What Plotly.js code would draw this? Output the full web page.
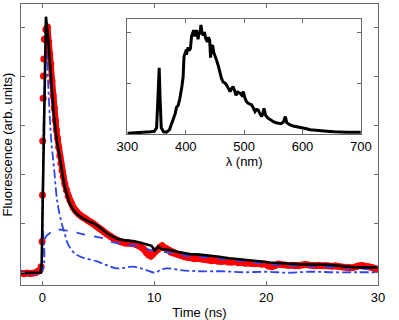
<!DOCTYPE html>
<html>
<head>
<meta charset="utf-8">
<script src="https://cdn.plot.ly/plotly-3.0.1.min.js"></script>
<style>
  body { margin: 0; background: #fff; }
  #plot { width: 399px; height: 320px; }
</style>
</head>
<body>
<div id="plot"></div>
<script>
// measured decay (red dots)
var dataTime = [-1.9, -1.65, -1.4, -1.15, -0.9, -0.65, -0.4, -0.22, -0.12, -0.03, 0.0, 0.02, 0.06, 0.09, 0.12, 0.17,
  0.3, 0.45, 0.55, 0.65, 0.75, 0.85, 0.95, 1.05, 1.15, 1.25, 1.35, 1.45, 1.55, 1.65, 1.75, 1.85, 2.0, 2.15, 2.3, 2.45,
  2.6, 2.75, 2.9, 3.05, 3.2, 3.35, 3.5, 3.65, 3.8, 3.95, 4.1, 4.3, 4.5, 4.7, 4.9, 5.1, 5.3, 5.5, 5.7, 5.9, 6.1, 6.3,
  6.5, 6.7, 6.9, 7.1, 7.3, 7.5, 7.7, 7.9, 8.1, 8.3, 8.5, 8.7, 8.9, 9.1, 9.3, 9.5, 9.7, 9.9, 10.1, 10.3, 10.5, 10.7,
  10.9, 11.1, 11.3, 11.5, 11.7, 11.9, 12.1, 12.4, 12.7, 13.0, 13.3, 13.6, 13.9, 14.2, 14.5, 14.8, 15.1, 15.4, 15.7,
  16.0, 16.3, 16.6, 16.9, 17.2, 17.5, 17.8, 18.1, 18.4, 18.7, 19.0, 19.3, 19.6, 19.9, 20.2, 20.5, 20.8, 21.1, 21.4,
  21.7, 22.0, 22.3, 22.6, 22.9, 23.2, 23.5, 23.8, 24.1, 24.4, 24.7, 25.0, 25.3, 25.6, 25.9, 26.2, 26.5, 26.8, 27.1,
  27.4, 27.7, 28.0, 28.3, 28.6, 28.9, 29.2, 29.5, 29.8];
var dataValue = [-0.004, -0.006, -0.003, -0.005, -0.004, -0.002, 0.004, 0.008, 0.022, 0.125, 0.315, 0.535, 0.71, 0.80, 0.87, 0.95,
  0.99, 1.0, 0.94, 0.89, 0.85, 0.78, 0.72, 0.67, 0.62, 0.58, 0.545, 0.51, 0.475, 0.445, 0.415, 0.39, 0.36, 0.335, 0.31, 0.295,
  0.28, 0.265, 0.255, 0.247, 0.24, 0.233, 0.228, 0.223, 0.22, 0.215, 0.21, 0.205, 0.2, 0.193, 0.186, 0.178, 0.172, 0.165, 0.158, 0.152, 0.146, 0.14,
  0.135, 0.13, 0.126, 0.123, 0.12, 0.118, 0.12, 0.117, 0.118, 0.114, 0.111, 0.106, 0.1, 0.092, 0.08, 0.07, 0.066, 0.075, 0.085, 0.093, 0.102, 0.108,
  0.1, 0.096, 0.09, 0.082, 0.079, 0.076, 0.072, 0.068, 0.063, 0.06, 0.058, 0.055, 0.056, 0.054, 0.052, 0.05, 0.047, 0.048, 0.045,
  0.044, 0.046, 0.042, 0.041, 0.043, 0.039, 0.04, 0.037, 0.038, 0.036, 0.035, 0.036, 0.033, 0.034, 0.025, 0.022, 0.028, 0.034, 0.031,
  0.03, 0.028, 0.029, 0.026, 0.027, 0.03, 0.032, 0.03, 0.028, 0.027, 0.029, 0.026, 0.027, 0.025, 0.024, 0.026, 0.023, 0.021, 0.02,
  0.019, 0.018, 0.022, 0.027, 0.028, 0.024, 0.022, 0.019, 0.014];
var peakIndex = 17; // dots after this index sit close enough to merge into a band

// fit (black line)
var fitTime = [-1.9, -0.5, -0.16, -0.07, 0.02, 0.13, 0.22, 0.31, 0.52, 0.67, 0.82, 0.98, 1.12, 1.3, 1.5, 1.7, 1.95, 2.16, 2.4,
  2.7, 3.0, 3.35, 3.73, 4.2, 4.6, 5.13, 5.5, 6.0, 6.5, 6.9, 7.4, 7.8, 8.2, 8.7, 9.3, 9.75, 10.04, 10.34, 10.64, 11.4, 12.3,
  13.2, 14.06, 14.95, 15.8, 16.7, 17.6, 18.5, 19.4, 20.3, 21.2, 22.1, 23.0, 24.0, 25.0, 25.7, 26.6, 27.7, 28.7, 29.96];
var fitValue = [-0.003, -0.002, -0.001, 0.04, 0.31, 0.6, 0.84, 1.042, 0.947, 0.84, 0.743, 0.66, 0.6, 0.53, 0.48, 0.42, 0.355, 0.32, 0.283,
  0.258, 0.24, 0.228, 0.216, 0.206, 0.199, 0.183, 0.168, 0.152, 0.14, 0.133, 0.13, 0.129, 0.126, 0.121, 0.112, 0.108, 0.089, 0.104, 0.095, 0.091, 0.081,
  0.074, 0.072, 0.068, 0.063, 0.057, 0.054, 0.05, 0.045, 0.04, 0.037, 0.034, 0.032, 0.032, 0.031, 0.03, 0.026, 0.021, 0.02, 0.02];

// slow component (blue dashed)
var slowTime = [-1.9, -0.1, -0.02, 0.02, 0.07, 0.31, 0.67, 0.91, 1.27, 1.8, 2.75, 3.3, 3.94, 5.4, 6.03, 7.8, 8.7, 9.6, 10.5, 11.4,
  12.3, 14.06, 16.0, 18.0, 20.0, 22.0, 24.0, 26.0, 28.0, 29.96];
var slowValue = [0.0, 0.0, 0.03, 0.077, 0.104, 0.145, 0.16, 0.17, 0.175, 0.172, 0.166, 0.159, 0.152, 0.139, 0.125, 0.111, 0.104, 0.091, 0.084, 0.08,
  0.07, 0.064, 0.055, 0.045, 0.035, 0.028, 0.025, 0.021, 0.016, 0.012];

// fast component (blue dash-dot)
var fastTime = [-1.9, -0.15, -0.02, 0.15, 0.3, 0.37, 0.52, 0.67, 0.8, 1.05, 1.35, 1.8, 1.95, 2.25, 2.7, 3.1, 3.6, 4.8, 5.67, 6.6,
  7.3, 8.1, 8.7, 9.3, 10.04, 10.5, 11.1, 12.3, 14.0, 16.0, 18.0, 20.0, 22.0, 24.0, 26.0, 28.0, 29.96];
var fastValue = [0.0, 0.0, 0.25, 0.7, 0.88, 0.9, 0.757, 0.62, 0.53, 0.417, 0.28, 0.186, 0.165, 0.118, 0.085, 0.07, 0.06, 0.045, 0.03, 0.016,
  0.018, 0.023, 0.017, 0.009, -0.002, 0.008, 0.016, 0.009, 0.004, 0.004, 0.0, 0.002, -0.002, 0.002, 0.0, 0.0, 0.0];

// emission spectrum (inset)
var waveLength = [300, 310, 320, 330, 340, 346, 350, 352, 354.5, 356, 358, 362, 367, 372, 376, 379, 382, 384, 387, 390,
  392, 393.5, 395.5, 397, 400, 402, 404, 406, 408, 410, 412, 413.5, 415, 417, 419, 421, 423, 424.5, 426, 428,
  430, 432, 434, 437, 439, 441, 442.5, 444, 446, 448, 450, 453, 455.7, 458.6, 461, 464, 467, 470, 473, 476,
  478, 481, 484, 486, 489, 493, 496, 498.6, 501.5, 504, 507, 510, 513, 516, 518.6, 521, 524, 527, 530, 532,
  534, 537, 541, 545, 550, 555, 558.6, 563, 567, 570.6, 573, 578, 584, 590, 595, 601, 607, 613, 620, 630,
  640, 647, 655, 664, 675, 687, 700];
var spectrum = [0.005, 0.008, 0.015, 0.012, 0.02, 0.025, 0.06, 0.3, 0.65, 0.35, 0.06, 0.02, 0.017, 0.04, 0.1, 0.16, 0.2, 0.26, 0.28, 0.35,
  0.4, 0.47, 0.56, 0.76, 0.81, 0.8, 0.85, 0.82, 0.84, 0.96, 0.99, 1.02, 0.96, 1.0, 1.02, 0.93, 1.0, 0.98, 1.07, 0.99,
  0.97, 1.0, 0.94, 0.905, 0.95, 0.92, 0.75, 0.86, 0.87, 0.8, 0.775, 0.72, 0.67, 0.595, 0.55, 0.51, 0.5, 0.48, 0.45, 0.415,
  0.44, 0.464, 0.42, 0.38, 0.41, 0.4, 0.38, 0.415, 0.35, 0.317, 0.3, 0.29, 0.284, 0.25, 0.22, 0.24, 0.235, 0.2, 0.17, 0.2,
  0.25, 0.18, 0.154, 0.14, 0.12, 0.11, 0.105, 0.1, 0.115, 0.17, 0.11, 0.09, 0.078, 0.072, 0.065, 0.06, 0.05, 0.04, 0.035, 0.03,
  0.025, 0.023, 0.02, 0.017, 0.015, 0.017, 0.015];

var blue = "rgb(45,70,235)";
var axisColor = "#6a6a6a";
var font = { family: "Liberation Sans, Arial, sans-serif", size: 13, color: "#000" };

var traces = [
  {
    // thick red band under the dense part of the decay
    x: dataTime.slice(peakIndex), y: dataValue.slice(peakIndex), type: "scatter", mode: "lines",
    line: { color: "red", width: 6 },
    xaxis: "x", yaxis: "y", hoverinfo: "skip"
  },
  {
    x: dataTime, y: dataValue, type: "scatter", mode: "markers",
    marker: { color: "red", size: 7 },
    xaxis: "x", yaxis: "y", hoverinfo: "skip"
  },
  {
    x: slowTime, y: slowValue, type: "scatter", mode: "lines",
    line: { color: blue, width: 1.8, dash: "dash", shape: "spline" },
    xaxis: "x", yaxis: "y"
  },
  {
    x: fastTime, y: fastValue, type: "scatter", mode: "lines",
    line: { color: blue, width: 1.8, dash: "dashdot", shape: "spline" },
    xaxis: "x", yaxis: "y"
  },
  {
    x: fitTime, y: fitValue, type: "scatter", mode: "lines",
    line: { color: "black", width: 2.6 },
    xaxis: "x", yaxis: "y"
  },
  {
    x: waveLength, y: spectrum, type: "scatter", mode: "lines",
    line: { color: "black", width: 3 },
    xaxis: "x2", yaxis: "y2"
  }
];

var layout = {
  width: 399,
  height: 320,
  margin: { l: 21, r: 21, t: 4, b: 35 },
  paper_bgcolor: "#fff",
  plot_bgcolor: "#fff",
  showlegend: false,
  font: font,
  xaxis: {
    domain: [0, 1],
    range: [-1.92, 30.001],
    tick0: 0, dtick: 10,
    ticks: "inside", ticklen: 4, tickcolor: axisColor,
    showline: true, linecolor: axisColor, linewidth: 1, mirror: "ticks",
    showgrid: false, zeroline: false,
    tickfont: font,
    title: { text: "Time (ns)", font: font, standoff: 4 }
  },
  yaxis: {
    domain: [0, 1],
    range: [-0.052, 1.094],
    tick0: 0, dtick: 0.2,
    ticks: "inside", ticklen: 4, tickcolor: axisColor,
    showline: true, linecolor: axisColor, linewidth: 1, mirror: "ticks",
    showgrid: false, zeroline: false, showticklabels: false,
    title: { text: "Fluorescence (arb. units)", font: font, standoff: 8 }
  },
  xaxis2: {
    domain: [0.298, 0.952],
    anchor: "y2",
    range: [300, 700],
    dtick: 100,
    ticks: "inside", ticklen: 4, tickcolor: axisColor,
    showline: true, linecolor: axisColor, linewidth: 1, mirror: "ticks",
    showgrid: false, zeroline: false,
    tickfont: font,
    title: { text: "λ (nm)", font: font, standoff: 1 }
  },
  yaxis2: {
    domain: [0.536, 0.947],
    anchor: "x2",
    range: [-0.005, 1.13],
    tick0: 0, dtick: 0.5,
    ticks: "inside", ticklen: 4, tickcolor: axisColor,
    showline: true, linecolor: axisColor, linewidth: 1, mirror: "ticks",
    showgrid: false, zeroline: false, showticklabels: false
  }
};

Plotly.newPlot("plot", traces, layout, { displayModeBar: false, staticPlot: true });
</script>
</body>
</html>
